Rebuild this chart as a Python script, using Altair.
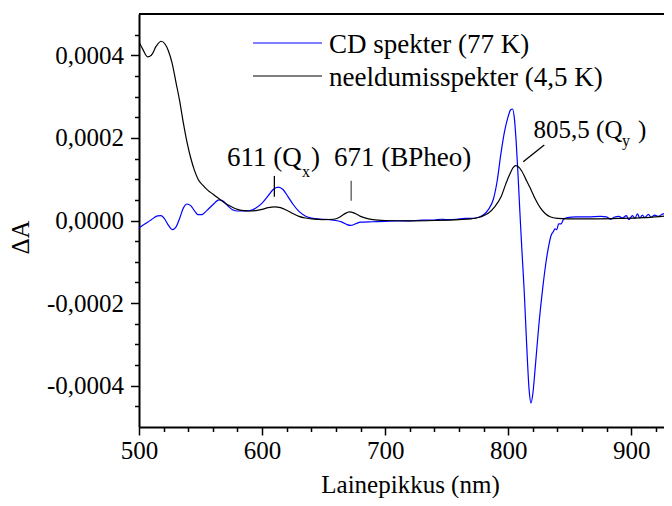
import altair as alt
import pandas as pd

# ---------------- data ----------------
series_names = ["CD spekter (77 K)", "neeldumisspekter (4,5 K)"]
series_colors = ["#0000ff", "#000000"]

abs_nm = [500, 503, 507, 510, 514, 518, 521, 524, 527, 530, 533, 536, 539, 542, 545, 548,
          552, 556, 560, 564, 568, 572, 576, 580, 585, 590, 595, 600, 605, 610, 615, 620,
          625, 630, 635, 640, 650, 658, 663, 667, 671, 675, 680, 685, 690, 700, 720, 740,
          760, 770, 778, 784, 789, 794, 798, 801, 804, 806, 808, 811, 814, 818, 822, 826,
          830, 834, 840, 848, 870, 890, 910, 925, 938]
abs_val = [0.000433, 0.000415, 0.000396, 0.000400, 0.000422, 0.000434, 0.000428, 0.000410,
           0.000380, 0.000335, 0.000290, 0.000237, 0.000190, 0.000152, 0.000122, 0.000100,
           0.000085, 0.000073, 0.000064, 0.000055, 0.000046, 0.000038, 0.000032, 0.000027,
           0.000024, 0.000023, 0.000024, 0.000027, 0.000031, 0.000033, 0.000031, 0.000025,
           0.000017, 0.000010, 0.000006, 0.000004, 0.000002, 0.000003, 0.000008, 0.000016,
           0.000021, 0.000018, 0.000010, 0.000005, 0.000002, 0.000000, -0.000001, 0.000000,
           0.000002, 0.000004, 0.000009, 0.000018, 0.000033, 0.000056, 0.000088, 0.000110,
           0.000128, 0.000133, 0.000131, 0.000120, 0.000102, 0.000078, 0.000052, 0.000031,
           0.000017, 0.000009, 0.000005, 0.000004, 0.000004, 0.000005, 0.000007, 0.000010,
           0.000013]

cd_nm = [500, 505, 510, 515, 518, 521, 524, 527, 530, 533, 536, 539, 542, 545, 548, 551,
         555, 560, 565, 568, 572, 576, 580, 585, 590, 595, 600, 605, 609, 613, 617, 621,
         625, 630, 635, 640, 648, 655, 660, 665, 669, 672, 676, 680, 690, 700, 710, 720,
         730, 740, 745, 750, 758, 765, 770, 776, 780, 784, 788, 791, 794, 797, 800, 802,
         803.5, 805, 806.5, 808, 809.5, 811, 813, 815, 817, 818.5, 820, 822, 825, 828,
         831, 833, 835, 836.5, 838, 839.5, 841, 843, 845, 848, 855, 865, 875, 880, 883,
         886, 890, 893, 896, 898, 901, 903, 905, 907, 909, 911, 914, 916, 919, 922, 926,
         930, 935, 938]
cd_val = [-0.000018, -0.000008, 0.000002, 0.000011, 0.000012, 0.000003, -0.000012, -0.000022,
          -0.000016, 0.000005, 0.000030, 0.000040, 0.000036, 0.000024, 0.000014, 0.000014,
          0.000024, 0.000038, 0.000050, 0.000048, 0.000036, 0.000026, 0.000023, 0.000023,
          0.000024, 0.000030, 0.000042, 0.000060, 0.000075, 0.000081, 0.000075, 0.000058,
          0.000040, 0.000022, 0.000011, 0.000006, 0.000003, 0.000002, 0.000000, -0.000004,
          -0.000010, -0.000012, -0.000008, -0.000004, -0.000003, -0.000002, -0.000001, -0.000001,
          0.000001, 0.000001, 0.000003, 0.000002, 0.000003, 0.000005, 0.000005, 0.000008,
          0.000014, 0.000027, 0.000052, 0.000095, 0.000160, 0.000215, 0.000252, 0.000268,
          0.000270, 0.000248, 0.000190, 0.000110, 0.000020, -0.000065, -0.000170, -0.000300,
          -0.000410, -0.000442, -0.000420, -0.000355, -0.000250, -0.000165, -0.000095, -0.000060,
          -0.000035, -0.000028, -0.000020, -0.000022, -0.000008, -0.000008, 0.000003, 0.000007,
          0.000009, 0.000009, 0.000010, 0.000009, 0.000003, 0.000008, 0.000010, 0.000006,
          0.000012, 0.000002, 0.000012, 0.000005, 0.000016, 0.000006, 0.000013, 0.000007,
          0.000015, 0.000008, 0.000013, 0.000010, 0.000016, 0.000015, 0.000018, 0.000019]

# annotation texts (anchor: left end, alphabetic baseline, in data units)
ann_big_text = ["611 (Q", ")", "671 (BPheo)"]
ann_big_nm = [571.5, 639.8, 658.5]
ann_big_val = [0.0001312, 0.0001312, 0.0001312]
ann_mid_text = ["805,5 (Q", ")"]
ann_mid_nm = [820.6, 905.5]
ann_mid_val = [0.0001995, 0.0001995]
ann_sub_text = ["x", "y"]
ann_sub_nm = [632.5, 892.5]
ann_sub_val = [0.0001051, 0.0001792]

# marker lines of the annotations
mark_nm = [610, 672.4, 812.2]
mark_nm2 = [610, 672.4, 829.3]
mark_v1 = [0.0000574, 0.0000477, 0.000142]
mark_v2 = [0.000108, 0.0000961, 0.000183]
mark_col = ["#000000", "#555555", "#000000"]

x_ticks = list(range(500, 921, 20))
y_ticks = [round(i * 0.00005, 5) for i in range(-9, 10)]
y_major = [-0.0004, -0.0002, 0.0, 0.0002, 0.0004]
y_major_labels = ["-0,0004", "-0,0002", "0,0000", "0,0002", "0,0004"]

# ---------------- chart ----------------
W, H = 525, 413
X_MAX = 926.6
FONT = "Liberation Serif"

xs = alt.Scale(domain=[500, X_MAX], nice=False, zero=False)
ys = alt.Scale(domain=[-0.0005, 0.0005], nice=False, zero=False)

y_test = " || ".join(f"abs(datum.value - ({v})) < 1e-9" for v in y_major)
y_label_expr = "".join(
    f"abs(datum.value - ({v})) < 1e-9 ? '{s}' : " for v, s in zip(y_major, y_major_labels)
) + "''"

x_axis = alt.Axis(
    values=x_ticks,
    labelExpr="datum.value % 100 === 0 ? datum.label : ''",
    format="d",
    tickSize={"condition": {"test": "datum.value % 100 === 0", "value": 8}, "value": 4.5},
    tickColor="black", tickWidth=1.5, domainColor="black", domainWidth=2,
    labelFont=FONT, labelFontSize=25, labelColor="black", labelPadding=3,
    labelOverlap=False, labelFlush=False, labelBound=False, grid=False,
    title="Lainepikkus (nm)", titleFont=FONT, titleFontSize=25, titleFontWeight="normal",
    titleColor="black", titleX=271, titleY=65, titleAlign="center", titleBaseline="alphabetic",
)
y_axis = alt.Axis(
    values=y_ticks,
    labelExpr=y_label_expr,
    tickSize={"condition": {"test": y_test, "value": 8.5}, "value": 4.5},
    tickColor="black", tickWidth=1.5, domainColor="black", domainWidth=2,
    labelFont=FONT, labelFontSize=25, labelColor="black", labelPadding=7,
    labelOverlap=False, labelFlush=False, labelBound=False, grid=False,
    title="\u0394A", titleFont=FONT, titleFontSize=25, titleFontWeight="normal",
    titleColor="black", titleX=-119, titleY=223, titleAlign="center", titleBaseline="middle",
    titleAngle=270,
)


def X(field):
    return alt.X(field, scale=xs, axis=x_axis, title="Lainepikkus (nm)")


def Y(field):
    return alt.Y(field, scale=ys, axis=y_axis, title="\u0394A")


cd_df = pd.DataFrame({"nm": cd_nm, "val": cd_val})
abs_df = pd.DataFrame({"nm": abs_nm, "val": abs_val})

cd_line = alt.Chart(cd_df).mark_line(color=series_colors[0], strokeWidth=1.2,
                                     interpolate="monotone", clip=True).encode(
    x=X("nm:Q"), y=Y("val:Q"),
)
abs_line = alt.Chart(abs_df).mark_line(color=series_colors[1], strokeWidth=1.2,
                                       interpolate="monotone", clip=True).encode(
    x=X("nm:Q"), y=Y("val:Q"),
)

ann_line_layers = []
for i in range(len(mark_nm)):
    d = pd.DataFrame({"x": [mark_nm[i]], "x2": [mark_nm2[i]], "y": [mark_v1[i]], "y2": [mark_v2[i]]})
    ann_line_layers.append(
        alt.Chart(d).mark_rule(strokeWidth=1.3, color=mark_col[i]).encode(
            x=X("x:Q"), x2="x2:Q", y=Y("y:Q"), y2="y2:Q",
        )
    )


def text_layer(texts, xs_, ys_, size):
    d = pd.DataFrame({"x": xs_, "y": ys_, "t": texts})
    return alt.Chart(d).mark_text(font=FONT, fontSize=size, align="left",
                                  baseline="alphabetic", color="black").encode(
        x=X("x:Q"), y=Y("y:Q"), text="t:N",
    )


ann_big = text_layer(ann_big_text, ann_big_nm, ann_big_val, 27)
ann_mid = text_layer(ann_mid_text, ann_mid_nm, ann_mid_val, 25)
ann_sub = text_layer(ann_sub_text, ann_sub_nm, ann_sub_val, 16)

# legend (manual, two rows)
legend_layers = []
row_line_y = [29, 62]
row_text_y = [39, 72]
for i in range(2):
    d = pd.DataFrame({"name": [series_names[i]]})
    legend_layers.append(
        alt.Chart(d).mark_rule(strokeWidth=1.2, color=series_colors[i]).encode(
            x=alt.value(114), x2=alt.value(183), y=alt.value(row_line_y[i]),
        )
    )
    legend_layers.append(
        alt.Chart(d).mark_text(font=FONT, fontSize=27, align="left", baseline="alphabetic",
                               color="black").encode(
            x=alt.value(190), y=alt.value(row_text_y[i]), text="name:N",
        )
    )

top_border = alt.Chart(pd.DataFrame({"a": [0]})).mark_rule(color="black", strokeWidth=2).encode(
    x=alt.value(0), x2=alt.value(W), y=alt.value(0),
)

chart = alt.layer(
    cd_line, abs_line, *ann_line_layers, ann_big, ann_mid, ann_sub, top_border, *legend_layers
).properties(
    width=W, height=H,
    autosize=alt.AutoSizeParams(type="none"),
    padding={"left": 131, "top": 6, "right": 0, "bottom": 71},
    background="white",
).configure_view(stroke=None).configure_axis(labelOverlap=False)

chart.save("out.html", embed_options={"renderer": "svg", "actions": False})
